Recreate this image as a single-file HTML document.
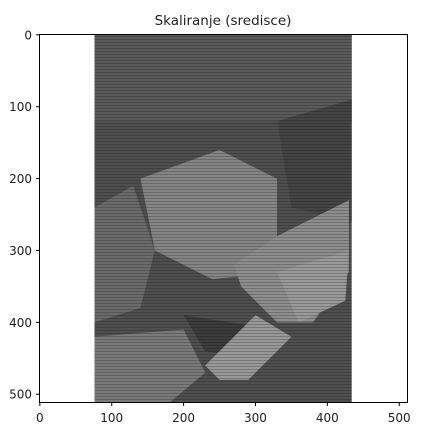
<!DOCTYPE html>
<html><head><meta charset="utf-8"><style>
body{margin:0;background:#fff;width:444px;height:441px;overflow:hidden}
text{font-family:"DejaVu Sans","Liberation Sans",sans-serif;font-size:12px;fill:#222}
</style></head><body>
<svg id="c" width="444" height="441">
<defs>
<pattern id="stripes" width="4" height="3" patternUnits="userSpaceOnUse">
<rect width="4" height="1" fill="#000" opacity="0.22"/>
</pattern>
<clipPath id="imgclip"><rect id="cliprect" x="0" y="0" width="0" height="0"/></clipPath>
</defs>
<text x="223" y="25" text-anchor="middle" style="font-size:13.5px">Skaliranje (sredisce)</text>
<g id="img" clip-path="url(#imgclip)"></g>
<rect x="39.5" y="34.5" width="368" height="368" fill="none" stroke="#000" stroke-width="1"/>
<g id="ticks"></g>
</svg>
<script>
const xTicks=[0,100,200,300,400,500];
const yTicks=[0,100,200,300,400,500];
const imgExtent=[76,434];
const regionGrays=["#4f4f4f","#5a5a5a","#444","#858585","#8e8e8e","#9a9a9a","#7a7a7a","#6b6b6b","#3c3c3c","#999"];
const regionPts=[
 [[76,0],[434,0],[434,512],[76,512]],
 [[76,0],[434,0],[434,120],[76,120]],
 [[330,120],[434,90],[434,260],[350,240]],
 [[140,200],[250,160],[330,200],[330,330],[240,340],[160,300]],
 [[270,320],[330,280],[430,230],[430,330],[380,400],[330,400],[280,350]],
 [[330,330],[430,300],[425,370],[360,400]],
 [[76,420],[200,410],[230,470],[180,512],[76,512]],
 [[76,240],[130,210],[160,300],[140,380],[76,400]],
 [[200,390],[330,410],[300,450],[230,440]],
 [[230,460],[300,390],[350,420],[290,480],[250,480]]
];
const X0=39.5,W=368,Y0=34.5,H=368;
const sx=v=>X0+(v+0.5)/512*W;
const sy=v=>Y0+(v+0.5)/512*H;
const NS="http://www.w3.org/2000/svg";
const img=document.getElementById('img');
const cr=document.getElementById('cliprect');
cr.setAttribute('x',sx(imgExtent[0]));cr.setAttribute('y',Y0);
cr.setAttribute('width',sx(imgExtent[1])-sx(imgExtent[0]));cr.setAttribute('height',H);
regionPts.forEach((pts,i)=>{
 const p=document.createElementNS(NS,'polygon');
 p.setAttribute('points',pts.map(q=>sx(q[0])+','+sy(q[1])).join(' '));
 p.setAttribute('fill',regionGrays[i]);
 
 
 img.appendChild(p);
});
const st=document.createElementNS(NS,'rect');
st.setAttribute('x',0);st.setAttribute('y',0);st.setAttribute('width',444);st.setAttribute('height',441);
st.setAttribute('fill','url(#stripes)');


img.appendChild(st);
const tg=document.getElementById('ticks');
xTicks.forEach(t=>{
 const l=document.createElementNS(NS,'line');
 l.setAttribute('x1',sx(t));l.setAttribute('x2',sx(t));l.setAttribute('y1',402.5);l.setAttribute('y2',406);l.setAttribute('stroke','#000');
 
 
 tg.appendChild(l);
 const tx=document.createElementNS(NS,'text');
 tx.setAttribute('x',sx(t));tx.setAttribute('y',422);tx.setAttribute('text-anchor','middle');tx.textContent=t;
 
 
 tg.appendChild(tx);
});
yTicks.forEach(t=>{
 const l=document.createElementNS(NS,'line');
 l.setAttribute('y1',sy(t));l.setAttribute('y2',sy(t));l.setAttribute('x1',36);l.setAttribute('x2',39.5);l.setAttribute('stroke','#000');
 
 
 tg.appendChild(l);
 const tx=document.createElementNS(NS,'text');
 tx.setAttribute('x',32);tx.setAttribute('y',sy(t)+4.5);tx.setAttribute('text-anchor','end');tx.textContent=t;
 
 
 tg.appendChild(tx);
});
</script>
</body></html>
